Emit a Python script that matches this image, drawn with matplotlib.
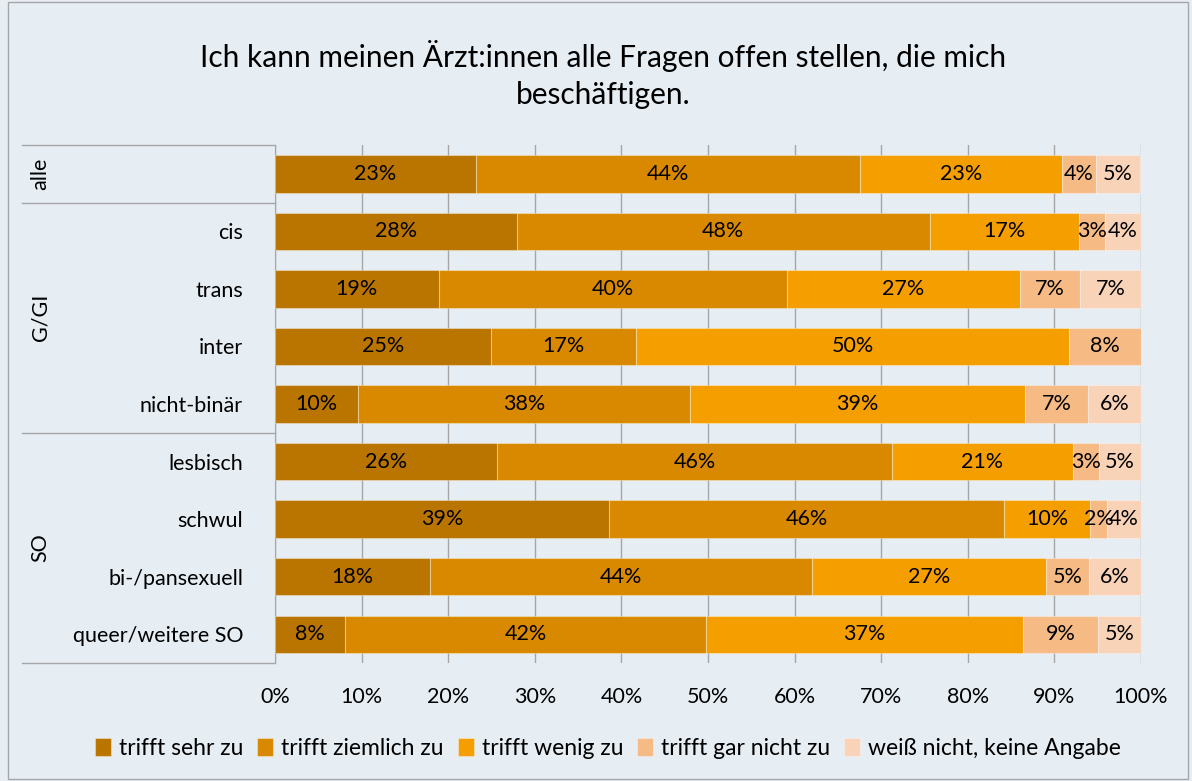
#!/usr/bin/python
"""
Stacked bar chart: Ich kann meinen Ärzt:innen alle Fragen offen stellen
"""

# IMPORT
import matplotlib
matplotlib.use("Agg")
import matplotlib.pyplot as plt
import matplotlib.transforms as mtransforms
from matplotlib.patches import Rectangle
import numpy as np

# VARIABLES
title = "Ich kann meinen Ärzt:innen alle Fragen offen stellen, die mich\nbeschäftigen."
categories = ["", "cis", "trans", "inter", "nicht-binär",
              "lesbisch", "schwul", "bi-/pansexuell", "queer/weitere SO"]
groups = ["alle", "G/GI", "SO"]
group_rows = [(0, 0), (1, 4), (5, 8)]
answers = ["trifft sehr zu", "trifft ziemlich zu", "trifft wenig zu",
           "trifft gar nicht zu", "weiß nicht, keine Angabe"]

sehr = [23.2, 27.9, 18.9, 24.9, 9.6, 25.6, 38.6, 17.9, 8.1]
ziemlich = [44.4, 47.7, 40.2, 16.8, 38.3, 45.7, 45.6, 44.1, 41.7]
wenig = [23.3, 17.2, 26.9, 50.0, 38.7, 20.8, 9.9, 27.0, 36.6]
gar_nicht = [3.9, 3.0, 7.0, 8.3, 7.3, 3.0, 2.0, 5.0, 8.6]
weiss_nicht = [5.1, 4.2, 7.0, 0.0, 6.1, 4.9, 3.9, 6.0, 5.0]

colors = ["#BA7400", "#D98900", "#F59E00", "#F6BA85", "#F9D3B8"]
bg = "#E6EEF4"
line_col = "#A6A6A6"

plt.rcParams['font.family'] = ['Lato', 'DejaVu Sans']

# MAIN
fig = plt.figure(figsize=(11.92, 7.81), dpi=100, facecolor=bg)
ax = fig.add_axes([0.2307, 0.1511, 0.7265, 0.6632], facecolor=bg)

series = [sehr, ziemlich, wenig, gar_nicht, weiss_nicht]
y = np.arange(len(categories))
left = np.zeros(len(categories))
for vals, col, name in zip(series, colors, answers):
    vals = np.array(vals)
    ax.barh(y, vals, left=left, height=0.65, color=col, label=name,
            edgecolor=(1, 1, 1, 0.35), linewidth=0.8, zorder=3)
    for yi, l, v in zip(y, left, vals):
        if v > 0:
            ax.text(l + v / 2, yi, "%d%%" % round(v), ha="center", va="center",
                    fontsize=15.5, color="black", zorder=4)
    left += vals

ax.set_xlim(0, 100)
ax.set_ylim(8.5, -0.5)
ax.set_xticks(np.arange(0, 101, 10))
ax.set_xticklabels(["%d%%" % t for t in range(0, 101, 10)], fontsize=15.5)
ax.set_yticks(y)
ax.set_yticklabels(categories, fontsize=15.5)
ax.tick_params(axis="x", length=0, pad=17)
ax.tick_params(axis="y", length=0, pad=23)
ax.xaxis.grid(True, color=line_col, linewidth=1, zorder=0)
for s in ["top", "right", "bottom"]:
    ax.spines[s].set_visible(False)
ax.spines["left"].set_color(line_col)

# group separators and labels
trans = mtransforms.blended_transform_factory(ax.transAxes, ax.transData)
for ys in [-0.5, 0.5, 4.5, 8.5]:
    ax.plot([-0.292, 0], [ys, ys], color=line_col, linewidth=1,
            transform=trans, clip_on=False)
for g, (a, b) in zip(groups, group_rows):
    ax.text(-0.271, (a + b) / 2, g, rotation=90, ha="center", va="center",
            fontsize=15.5, transform=trans)

fig.text(0.506, 0.905, title, ha="center", va="center", fontsize=21.5,
         linespacing=1.4)

fig.legend(loc="center", bbox_to_anchor=(0.51, 0.042), ncol=5, frameon=False,
           fontsize=16.5, handlelength=0.7, handleheight=0.85,
           handletextpad=0.35, columnspacing=0.6)

fig.patches.append(Rectangle((0.007, 0.003), 0.99, 0.994, transform=fig.transFigure,
                             fill=False, edgecolor=line_col, linewidth=1))

fig.savefig("out.png", dpi=100, facecolor=bg)
